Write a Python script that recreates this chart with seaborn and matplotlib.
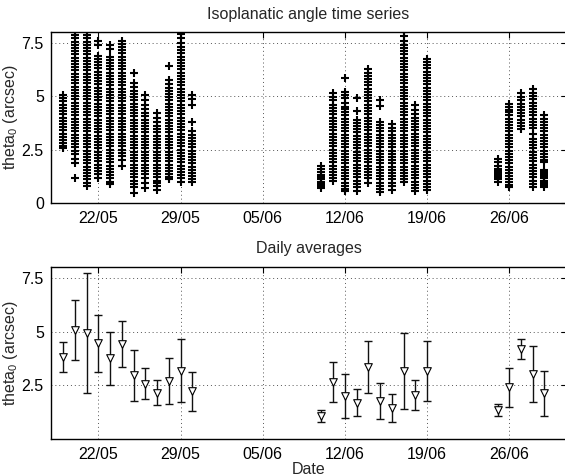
import numpy as np
import pandas as pd
import matplotlib
matplotlib.use("Agg")
import matplotlib.pyplot as plt
import matplotlib.dates as mdates
import seaborn as sns

# ---------------- data ----------------
# nightly raw measurements (arcsec), read from the picture
v0519 = [5.05, 4.9, 4.75, 4.6, 4.45, 4.3, 4.15, 4.0, 3.85, 3.7, 3.55, 3.4, 3.25, 3.1, 2.95, 2.8, 2.65, 2.55]
v0520 = [8.0, 7.85, 7.7, 7.55, 7.4, 7.25, 7.1, 6.95, 6.8, 6.65, 6.5, 6.35, 6.2, 6.05, 5.9, 5.75, 5.6, 5.45,
         5.3, 5.15, 5.0, 4.85, 4.7, 4.55, 4.4, 4.25, 4.1, 3.95, 3.8, 3.65, 3.5, 3.35, 3.2, 3.05, 2.9, 2.75,
         2.6, 2.45, 2.3, 2.05, 1.85, 1.15]
v0521 = [8.0, 7.85, 7.7, 7.55, 7.4, 7.25, 7.1, 6.95, 6.8, 6.65, 6.5, 6.35, 6.2, 6.05, 5.9, 5.75, 5.6, 5.45,
         5.3, 5.15, 5.0, 4.85, 4.7, 4.55, 4.4, 4.25, 4.1, 3.95, 3.8, 3.65, 3.5, 3.35, 3.2, 3.05, 2.9, 2.75,
         2.6, 2.45, 2.3, 2.15, 2.0, 1.85, 1.7, 1.55, 1.4, 1.25, 1.1, 0.95, 0.8]
v0522 = [7.6, 7.4, 6.9, 6.75, 6.6, 6.45, 6.3, 6.15, 6.0, 5.85, 5.7, 5.55, 5.4, 5.25, 5.1, 4.95, 4.8, 4.65,
         4.5, 4.35, 4.2, 4.05, 3.9, 3.75, 3.6, 3.45, 3.3, 3.15, 3.0, 2.85, 2.7, 2.55, 2.4, 2.25, 2.1, 1.95,
         1.8, 1.65, 1.5, 1.35, 1.15]
v0523 = [7.4, 7.2, 6.85, 6.7, 6.55, 6.4, 6.25, 6.1, 5.95, 5.8, 5.65, 5.5, 5.35, 5.2, 5.05, 4.9, 4.75, 4.6,
         4.45, 4.3, 4.15, 4.0, 3.85, 3.7, 3.55, 3.4, 3.25, 3.1, 2.95, 2.8, 2.65, 2.5, 2.35, 2.2, 2.05, 1.9,
         1.75, 1.6, 1.45, 1.3, 1.15, 1.0, 0.9]
v0524 = [7.6, 7.45, 7.3, 7.15, 7.0, 6.85, 6.7, 6.55, 6.4, 6.25, 6.1, 5.95, 5.8, 5.65, 5.5, 5.35, 5.2, 5.05,
         4.9, 4.75, 4.6, 4.45, 4.3, 4.15, 4.0, 3.85, 3.7, 3.55, 3.4, 3.25, 3.1, 2.95, 2.8, 2.65, 2.5, 2.35,
         2.2, 2.0, 1.75]
v0525 = [6.1, 5.6, 5.45, 5.25, 5.1, 4.95, 4.8, 4.65, 4.5, 4.35, 4.2, 4.05, 3.9, 3.75, 3.6, 3.45, 3.3, 3.15,
         3.0, 2.85, 2.7, 2.55, 2.4, 2.25, 2.1, 1.95, 1.8, 1.65, 1.5, 1.35, 1.2, 1.05, 0.9, 0.75, 0.45]
v0526 = [5.05, 4.8, 4.6, 4.4, 4.2, 4.05, 3.9, 3.75, 3.6, 3.45, 3.3, 3.15, 3.0, 2.85, 2.7, 2.55, 2.4, 2.25,
         2.1, 1.95, 1.8, 1.65, 1.5, 1.35, 1.15, 0.95, 0.7]
v0527 = [4.2, 4.0, 3.8, 3.6, 3.45, 3.3, 3.15, 3.0, 2.85, 2.7, 2.55, 2.4, 2.25, 2.1, 1.95, 1.8, 1.65, 1.5,
         1.35, 1.2, 1.05, 0.95, 0.8, 0.6]
v0528 = [6.4, 5.75, 5.55, 5.4, 5.25, 5.1, 4.95, 4.8, 4.65, 4.5, 4.35, 4.2, 4.05, 3.9, 3.75, 3.6, 3.45, 3.3,
         3.15, 3.0, 2.85, 2.7, 2.55, 2.4, 2.25, 2.1, 1.95, 1.8, 1.65, 1.5, 1.35, 1.2, 1.1]
v0529 = [7.9, 7.7, 7.5, 7.3, 7.15, 7.0, 6.85, 6.7, 6.55, 6.4, 6.25, 6.1, 5.95, 5.8, 5.65, 5.5, 5.35, 5.2,
         5.05, 4.9, 4.75, 4.6, 4.45, 4.3, 4.15, 4.0, 3.85, 3.7, 3.55, 3.4, 3.25, 3.1, 2.95, 2.8, 2.65, 2.5,
         2.35, 2.2, 2.05, 1.9, 1.75, 1.6, 1.45, 1.3, 1.15, 1.0]
v0530 = [5.05, 4.85, 4.6, 3.8, 3.35, 3.2, 3.05, 2.9, 2.75, 2.6, 2.45, 2.3, 2.15, 2.0, 1.85, 1.7, 1.55, 1.4,
         1.25, 1.1, 1.0]
v0610 = [1.75, 1.6, 1.45, 1.3, 1.2, 1.1, 1.0, 0.9, 0.8, 0.7]
v0611 = [5.15, 4.95, 4.8, 4.6, 4.45, 4.3, 4.15, 4.0, 3.85, 3.7, 3.55, 3.4, 3.25, 3.1, 2.95, 2.8, 2.65, 2.5,
         2.35, 2.2, 2.05, 1.9, 1.75, 1.6, 1.45, 1.3, 1.15, 1.05]
v0612 = [5.85, 5.2, 5.05, 4.9, 4.7, 4.5, 4.4, 4.25, 4.1, 3.95, 3.8, 3.65, 3.5, 3.35, 3.2, 3.05, 2.9, 2.75,
         2.6, 2.45, 2.3, 2.15, 2.0, 1.85, 1.7, 1.55, 1.4, 1.25, 1.1, 0.95, 0.8, 0.65, 0.55]
v0613 = [4.9, 4.3, 3.9, 3.75, 3.6, 3.45, 3.3, 3.15, 3.0, 2.85, 2.7, 2.55, 2.4, 2.25, 2.1, 1.95, 1.8, 1.65,
         1.5, 1.35, 1.2, 1.05, 0.9, 0.75, 0.55]
v0614 = [6.25, 6.1, 5.95, 5.8, 5.65, 5.5, 5.35, 5.2, 5.05, 4.9, 4.75, 4.6, 4.45, 4.3, 4.15, 4.0, 3.85, 3.7,
         3.55, 3.4, 3.25, 3.1, 2.95, 2.8, 2.65, 2.5, 2.35, 2.2, 2.05, 1.9, 1.75, 1.6, 1.45, 1.3, 1.15, 0.95]
v0615 = [4.8, 4.55, 3.8, 3.65, 3.5, 3.35, 3.2, 3.05, 2.9, 2.75, 2.6, 2.45, 2.3, 2.15, 2.0, 1.85, 1.7, 1.55,
         1.4, 1.25, 1.1, 0.95, 0.8, 0.65, 0.5]
v0616 = [3.7, 3.5, 3.35, 3.2, 3.05, 2.9, 2.75, 2.6, 2.45, 2.3, 2.15, 2.0, 1.85, 1.7, 1.55, 1.4, 1.25, 1.1,
         0.95, 0.8, 0.6]
v0617 = [8.0, 7.8, 7.6, 7.4, 7.25, 7.1, 6.95, 6.8, 6.65, 6.5, 6.35, 6.2, 6.05, 5.9, 5.75, 5.6, 5.45, 5.3,
         5.15, 5.0, 4.85, 4.7, 4.55, 4.4, 4.25, 4.1, 3.95, 3.8, 3.65, 3.5, 3.35, 3.2, 3.05, 2.9, 2.75, 2.6,
         2.45, 2.3, 2.15, 2.0, 1.85, 1.7, 1.55, 1.4, 1.25, 1.1, 1.0]
v0618 = [4.6, 4.35, 4.15, 4.0, 3.85, 3.7, 3.55, 3.4, 3.25, 3.1, 2.95, 2.8, 2.65, 2.5, 2.35, 2.2, 2.05, 1.9,
         1.75, 1.6, 1.45, 1.3, 1.15, 1.0, 0.85, 0.7, 0.55]
v0619 = [6.75, 6.6, 6.45, 6.3, 6.15, 6.0, 5.85, 5.7, 5.55, 5.4, 5.25, 5.1, 4.95, 4.8, 4.65, 4.5, 4.35, 4.2,
         4.05, 3.9, 3.75, 3.6, 3.45, 3.3, 3.15, 3.0, 2.85, 2.7, 2.55, 2.4, 2.25, 2.1, 1.95, 1.8, 1.65, 1.5,
         1.35, 1.2, 1.05, 0.9, 0.75, 0.6]
v0625 = [2.05, 1.9, 1.75, 1.6, 1.5, 1.4, 1.3, 1.2, 1.1, 1.0]
v0626 = [4.65, 4.5, 4.35, 4.25, 4.1, 3.95, 3.8, 3.65, 3.5, 3.35, 3.2, 3.05, 2.9, 2.75, 2.6, 2.45, 2.3, 2.15,
         2.0, 1.85, 1.7, 1.55, 1.4, 1.25, 1.1, 1.0, 0.85, 0.75]
v0627 = [5.15, 4.95, 4.8, 4.65, 4.5, 4.35, 4.2, 4.05, 3.9, 3.75, 3.6, 3.45]
v0628 = [5.35, 5.15, 5.0, 4.85, 4.7, 4.55, 4.4, 4.25, 4.1, 3.95, 3.8, 3.65, 3.5, 3.25, 3.0, 2.85, 2.7, 2.55,
         2.4, 2.25, 2.1, 1.95, 1.8, 1.65, 1.5, 1.35, 1.2, 1.05, 0.9, 0.75]
v0629 = [4.1, 3.95, 3.8, 3.65, 3.5, 3.35, 3.2, 3.05, 2.9, 2.75, 2.6, 2.45, 2.3, 2.15, 2.0, 1.9, 1.55, 1.45,
         1.35, 1.25, 1.15, 1.05, 0.95, 0.85, 0.75]

night_dates = ["2008-05-19", "2008-05-20", "2008-05-21", "2008-05-22", "2008-05-23", "2008-05-24",
               "2008-05-25", "2008-05-26", "2008-05-27", "2008-05-28", "2008-05-29", "2008-05-30",
               "2008-06-10", "2008-06-11", "2008-06-12", "2008-06-13", "2008-06-14", "2008-06-15",
               "2008-06-16", "2008-06-17", "2008-06-18", "2008-06-19",
               "2008-06-25", "2008-06-26", "2008-06-27", "2008-06-28", "2008-06-29"]
night_values = [v0519, v0520, v0521, v0522, v0523, v0524, v0525, v0526, v0527, v0528, v0529, v0530,
                v0610, v0611, v0612, v0613, v0614, v0615, v0616, v0617, v0618, v0619,
                v0625, v0626, v0627, v0628, v0629]

# daily averages and standard deviations
avg_mean = [3.83, 5.07, 4.95, 4.45, 3.76, 4.42, 2.96, 2.58, 2.16, 2.70, 3.18, 2.22,
            1.07, 2.64, 2.01, 1.70, 3.35, 1.78, 1.44, 3.19, 2.05, 3.16,
            1.35, 2.41, 4.19, 3.04, 2.12]
avg_std = [0.69, 1.41, 2.79, 1.35, 1.24, 1.06, 1.17, 0.72, 0.57, 1.07, 1.47, 0.91,
           0.27, 0.93, 1.03, 0.64, 1.22, 0.83, 0.64, 1.77, 0.70, 1.40,
           0.29, 0.92, 0.45, 1.31, 1.04]

tick_dates = ["2008-05-22", "2008-05-29", "2008-06-05", "2008-06-12", "2008-06-19", "2008-06-26"]
top_yticks = [0, 2.5, 5, 7.5]
top_yticklabels = ["0", "2.5", "5", "7.5"]
bot_yticks = [2.5, 5, 7.5]
bot_yticklabels = ["2.5", "5", "7.5"]

raw = pd.DataFrame({
    "date": np.repeat(pd.to_datetime(night_dates), [len(v) for v in night_values]),
    "theta": np.concatenate([np.asarray(v, float) for v in night_values]),
})
avg = pd.DataFrame({"date": pd.to_datetime(night_dates), "mean": avg_mean, "std": avg_std})

# ---------------- style ----------------
sns.set_theme(style="white")
plt.rcParams["font.family"] = ["Liberation Sans", "DejaVu Sans"]
plt.rcParams["mathtext.fontset"] = "custom"
plt.rcParams["mathtext.rm"] = "Liberation Sans"
plt.rcParams["mathtext.it"] = "Liberation Sans:italic"

FS = 11.5
W, H = 565, 476
fig = plt.figure(figsize=(W / 100, H / 100), dpi=100)
L, R = 50.7, 566.5
ax1 = fig.add_axes([L / W, 1 - 203 / H, (R - L) / W, (203 - 32) / H])
ax2 = fig.add_axes([L / W, 1 - 439 / H, (R - L) / W, (439 - 267.3) / H])

xlim = (pd.Timestamp("2008-05-17 22:40"), pd.Timestamp("2008-06-30 21:00"))

sns.scatterplot(data=raw, x="date", y="theta", marker="+", color="black", s=34,
                linewidth=1.5, ax=ax1, legend=False, zorder=3)

ax2.errorbar(avg["date"], avg["mean"], yerr=avg["std"], fmt="none", ecolor="#111111",
             elinewidth=1.0, capsize=3, capthick=1.0, zorder=3)
sns.scatterplot(data=avg, x="date", y="mean", marker="v", s=30, facecolor="white",
                edgecolor="black", linewidth=0.8, ax=ax2, legend=False, zorder=4)

ticks = pd.to_datetime(tick_dates)
label_x = (20 - L) / (R - L)
for ax, yt, ytl in [(ax1, top_yticks, top_yticklabels), (ax2, bot_yticks, bot_yticklabels)]:
    ax.set_xlim(xlim)
    ax.set_ylim(0, 8)
    ax.set_xticks(ticks)
    ax.xaxis.set_major_formatter(mdates.DateFormatter("%d/%m"))
    ax.set_yticks(yt)
    ax.set_yticklabels(ytl)
    ax.grid(True, linestyle=(0, (1, 3)), color="#555555", linewidth=0.7)
    ax.set_axisbelow(True)
    ax.tick_params(direction="in", length=4, width=0.8, top=True, right=True,
                   labelsize=FS, colors="black")
    ax.tick_params(axis="x", pad=6)
    ax.tick_params(axis="y", pad=5)
    for sp in ax.spines.values():
        sp.set_visible(True)
        sp.set_color("black")
        sp.set_linewidth(1.0)
    ax.set_xlabel("")
    ax.set_ylabel(r"theta$_\mathregular{0}$ (arcsec)", fontsize=FS)
    ax.yaxis.set_label_coords(label_x, 0.5)

ax1.set_title("Isoplanatic angle time series", fontsize=FS, pad=9)
ax2.set_title("Daily averages", fontsize=FS, pad=10)
ax2.set_xlabel("Date", fontsize=FS, labelpad=0)

fig.savefig("out.png", dpi=100)
